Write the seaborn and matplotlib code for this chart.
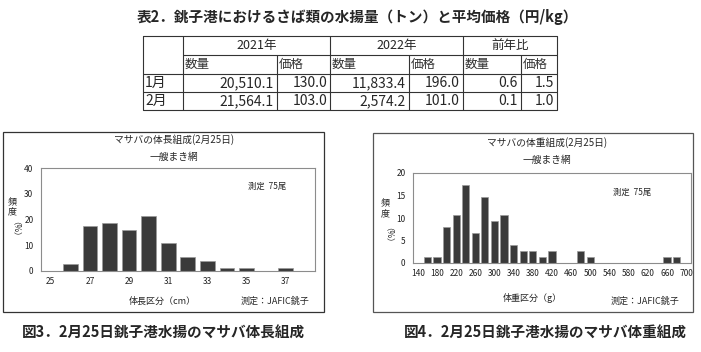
import matplotlib
matplotlib.use("Agg")
import matplotlib.pyplot as plt
import seaborn as sns
import pandas as pd

sns.set_theme(style="white")
plt.rcParams['font.family'] = ['Noto Sans CJK JP', 'DejaVu Sans']

# ---------------- data ----------------
table_title = "表2．銚子港におけるさば類の水揚量（トン）と平均価格（円/kg）"
year_headers = ["2021年", "2022年", "前年比"]
sub_headers = ["数量", "価格", "数量", "価格", "数量", "価格"]
row_labels = ["1月", "2月"]
row_jan = ["20,510.1", "130.0", "11,833.4", "196.0", "0.6", "1.5"]
row_feb = ["21,564.1", "103.0", "2,574.2", "101.0", "0.1", "1.0"]

length_cats = [str(v) for v in range(25, 39)]
length_vals = [0, 2.7, 17.3, 18.7, 16.0, 21.3, 10.7, 5.3, 4.0, 1.3, 1.3, 0, 1.3, 0]

weight_cats = [str(v) for v in range(140, 701, 20)]
weight_vals = [0, 1.3, 1.3, 8.0, 10.7, 17.3, 6.7, 14.7, 9.3, 10.7, 4.0, 2.7, 2.7, 1.3,
               2.7, 0, 0, 2.7, 1.3, 0, 0, 0, 0, 0, 0, 0, 1.3, 1.3, 0]

W, H = 701, 352
fig = plt.figure(figsize=(W / 100, H / 100), dpi=100)
fig.patch.set_facecolor("white")

def axes_px(l, t, r, b):
    return fig.add_axes([l / W, 1 - b / H, (r - l) / W, (b - t) / H])

# overlay axes in pixel coordinates
ov = fig.add_axes([0, 0, 1, 1])
ov.set_xlim(0, W)
ov.set_ylim(H, 0)
ov.axis("off")
ov.set_zorder(5)
ov.patch.set_alpha(0)

# ---------------- table ----------------
ov.text(357, 17, table_title, ha="center", va="center", fontsize=10.5, fontweight="bold")
cx = [143, 183, 277, 330, 409, 463, 521, 557]
ry = [36, 55, 74, 92, 110]
lc = "#333333"
lw = 0.8
ov.plot([cx[0], cx[-1], cx[-1], cx[0], cx[0]], [ry[0], ry[0], ry[-1], ry[-1], ry[0]], color=lc, lw=lw)
ov.plot([cx[1], cx[-1]], [ry[1], ry[1]], color=lc, lw=lw)
for y in ry[2:4]:
    ov.plot([cx[0], cx[-1]], [y, y], color=lc, lw=lw)
for x in [cx[1], cx[3], cx[5]]:
    ov.plot([x, x], [ry[0], ry[-1]], color=lc, lw=lw)
for x in [cx[2], cx[4], cx[6]]:
    ov.plot([x, x], [ry[1], ry[-1]], color=lc, lw=lw)
for i, h in enumerate(year_headers):
    ov.text((cx[1 + 2 * i] + cx[3 + 2 * i]) / 2, (ry[0] + ry[1]) / 2, h,
            ha="center", va="center", fontsize=9)
for i, h in enumerate(sub_headers):
    ov.text(cx[1 + i] + 2, (ry[1] + ry[2]) / 2, h, ha="left", va="center", fontsize=9, color="#333333")
for r, (lab, vals) in enumerate(zip(row_labels, [row_jan, row_feb])):
    yc = (ry[2 + r] + ry[3 + r]) / 2
    ov.text(cx[0] + 2, yc, lab, ha="left", va="center", fontsize=10)
    for i, v in enumerate(vals):
        ov.text(cx[2 + i] - 3, yc, v, ha="right", va="center", fontsize=10)

# ---------------- charts ----------------
bar_color = "#3a3a3a"
edge_color = "#9a9a9a"
spine_color = "#8c8c8c"

def draw_chart(ax, cats, vals, ymax, ystep, label_step):
    df = pd.DataFrame({"cat": cats, "val": vals})
    sns.barplot(data=df, x="cat", y="val", ax=ax, order=cats, color=bar_color,
                saturation=1, width=0.75, edgecolor=edge_color, linewidth=0.5)
    n = len(cats)
    ax.set_xlim(-0.5, n - 0.5)
    ax.set_ylim(0, ymax)
    ax.set_yticks(range(0, ymax + 1, ystep))
    ax.set_xticks(range(n))
    ax.set_xticklabels([c if i % label_step == 0 else "" for i, c in enumerate(cats)])
    ax.set_xticks([i - 0.5 for i in range(n + 1)], minor=True)
    ax.tick_params(axis="x", which="major", length=0, labelsize=6, pad=4, colors="#222222")
    ax.tick_params(axis="x", which="minor", length=2, width=0.6, color=spine_color, direction="inout")
    ax.tick_params(axis="y", length=2.5, width=0.6, color=spine_color, direction="out",
                   labelsize=6, pad=3, labelcolor="#222222")
    ax.set_xlabel("")
    ax.set_ylabel("")
    for s in ax.spines.values():
        s.set_visible(True)
        s.set_color(spine_color)
        s.set_linewidth(0.8)
    ax.grid(False)
    ax.set_facecolor("white")

# left chart box
ov.add_patch(plt.Rectangle((3, 132), 321, 180, fill=False, ec="#333333", lw=0.9))
axL = axes_px(41, 168, 315, 271)
draw_chart(axL, length_cats, length_vals, 40, 10, 2)
ov.text(174, 140, "マサバの体長組成(2月25日)", ha="center", va="center", fontsize=7)
ov.text(174, 157, "一艘まき網", ha="center", va="center", fontsize=7)
ov.text(267, 186, "測定  75尾", ha="center", va="center", fontsize=6)
ov.text(12, 202, "頻", ha="center", va="center", fontsize=6.5)
ov.text(12, 212, "度", ha="center", va="center", fontsize=6.5)
ov.text(12, 233, "（%）", ha="center", va="center", fontsize=6, rotation=-90)
ov.text(162, 301, "体長区分（cm）", ha="center", va="center", fontsize=6.5)
ov.text(275, 301, "測定：JAFIC銚子", ha="center", va="center", fontsize=6.5)
ov.text(163, 333, "図3．2月25日銚子港水揚のマサバ体長組成", ha="center", va="center",
        fontsize=10.5, fontweight="bold")

# right chart box
ov.add_patch(plt.Rectangle((373, 133), 320, 179, fill=False, ec="#555555", lw=0.9))
axR = axes_px(413, 173, 691, 263)
draw_chart(axR, weight_cats, weight_vals, 20, 5, 2)
ov.text(547, 143, "マサバの体重組成(2月25日)", ha="center", va="center", fontsize=7)
ov.text(547, 160, "一艘まき網", ha="center", va="center", fontsize=7)
ov.text(632, 192, "測定  75尾", ha="center", va="center", fontsize=6)
ov.text(385, 203, "頻", ha="center", va="center", fontsize=6.5)
ov.text(385, 214, "度", ha="center", va="center", fontsize=6.5)
ov.text(385, 239, "（%）", ha="center", va="center", fontsize=6, rotation=-90)
ov.text(532, 298, "体重区分（g）", ha="center", va="center", fontsize=6.5)
ov.text(645, 301, "測定：JAFIC銚子", ha="center", va="center", fontsize=6.5)
ov.text(545, 333, "図4．2月25日銚子港水揚のマサバ体重組成", ha="center", va="center",
        fontsize=10.5, fontweight="bold")

fig.savefig("out.png", dpi=100, facecolor="white")
